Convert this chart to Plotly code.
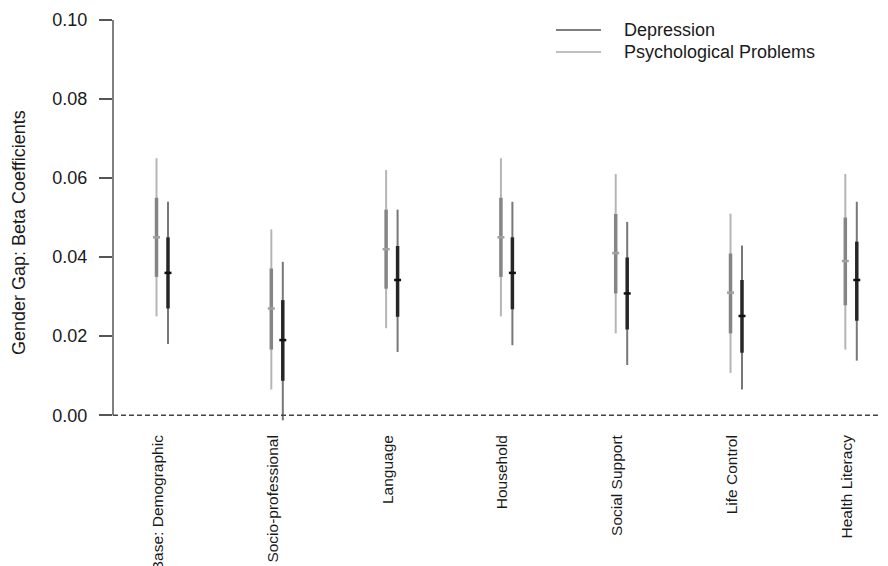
import plotly.graph_objects as go

# ---------------- data ----------------
categories = ["Base: Demographic", "Socio-professional", "Language", "Household",
              "Social Support", "Life Control", "Health Literacy"]

psych_est = [0.045, 0.027, 0.042, 0.045, 0.041, 0.031, 0.039]
psych_lo95 = [0.025, 0.0065, 0.022, 0.025, 0.0207, 0.0107, 0.0166]
psych_hi95 = [0.065, 0.047, 0.062, 0.065, 0.061, 0.051, 0.061]
psych_lo_in = [0.035, 0.0166, 0.032, 0.035, 0.0308, 0.0207, 0.0278]
psych_hi_in = [0.055, 0.0371, 0.052, 0.055, 0.0509, 0.0409, 0.050]

dep_est = [0.036, 0.019, 0.0342, 0.036, 0.0308, 0.0251, 0.0342]
dep_lo95 = [0.018, -0.0013, 0.016, 0.0177, 0.0127, 0.0065, 0.0138]
dep_hi95 = [0.054, 0.0388, 0.052, 0.054, 0.0489, 0.0429, 0.054]
dep_lo_in = [0.027, 0.0087, 0.0249, 0.0268, 0.0217, 0.0158, 0.0239]
dep_hi_in = [0.045, 0.0291, 0.0428, 0.045, 0.0399, 0.0342, 0.0439]

y_ticks = [0.00, 0.02, 0.04, 0.06, 0.08, 0.10]
y_tick_labels = ["0.00", "0.02", "0.04", "0.06", "0.08", "0.10"]

legend_labels = ["Depression", "Psychological Problems"]
y_title = "Gender Gap: Beta Coefficients"

# ---------------- layout constants ----------------
FONT = "Liberation Sans, Arial, Helvetica, sans-serif"
BODY = 8                      # default page margin around the plot div
W, H = 888 - BODY, 566 - BODY
ML, MR, MT, MB = 113 - BODY, 0, 12 - BODY, 135
PW, PH = W - ML - MR, H - MT - MB

PSYCH_OFF = -0.013
DEP_OFF = 0.087

PSY_THIN, PSY_THICK, PSY_PT = "#b5b5b5", "#858585", "#a0a0a0"
DEP_THIN, DEP_THICK, DEP_PT = "#777777", "#262626", "#111111"

pos = list(range(1, len(categories) + 1))


def segments(xs, lo, hi):
    X, Y = [], []
    for x, a, b in zip(xs, lo, hi):
        X += [x, x, None]
        Y += [a, b, None]
    return X, Y


fig = go.Figure()

series = [
    (PSYCH_OFF, psych_est, psych_lo95, psych_hi95, psych_lo_in, psych_hi_in,
     PSY_THIN, PSY_THICK, PSY_PT, legend_labels[1]),
    (DEP_OFF, dep_est, dep_lo95, dep_hi95, dep_lo_in, dep_hi_in,
     DEP_THIN, DEP_THICK, DEP_PT, legend_labels[0]),
]

for off, est, lo95, hi95, loi, hii, cthin, cthick, cpt, name in series:
    xs = [p + off for p in pos]
    X, Y = segments(xs, lo95, hi95)
    fig.add_trace(go.Scatter(x=X, y=Y, mode="lines", line=dict(color=cthin, width=2),
                             showlegend=False, hoverinfo="skip", name=name))
    X, Y = segments(xs, loi, hii)
    fig.add_trace(go.Scatter(x=X, y=Y, mode="lines", line=dict(color=cthick, width=3.5),
                             showlegend=False, hoverinfo="skip", name=name))
    fig.add_trace(go.Scatter(x=xs, y=est, mode="markers",
                             marker=dict(symbol="line-ew", size=5,
                                         line=dict(width=2.5, color=cpt)),
                             showlegend=False, name=name))

# dashed reference line at zero
fig.add_shape(type="line", xref="paper", yref="y", x0=0, x1=1, y0=0, y1=0,
              line=dict(color="#444444", width=1.5, dash="5px,3px"))
# y axis line only spanning the tick range (R style)
fig.add_shape(type="line", xref="paper", yref="y", x0=0, x1=0,
              y0=y_ticks[0], y1=y_ticks[-1],
              line=dict(color="#555555", width=1.5))


def px_x(px):   # page pixel -> paper
    return (px - BODY - ML) / PW


def px_y(py):
    return (MT + PH - (py - BODY)) / PH


# manual legend
for label, col, py in [(legend_labels[0], "#555555", 30), (legend_labels[1], "#aaaaaa", 52)]:
    fig.add_shape(type="line", xref="paper", yref="paper",
                  x0=px_x(556), x1=px_x(601), y0=px_y(py), y1=px_y(py),
                  line=dict(color=col, width=1.5))
    fig.add_annotation(xref="paper", yref="paper", x=px_x(622), y=px_y(py),
                       text=label, showarrow=False, xanchor="left", yanchor="middle",
                       font=dict(family=FONT, size=18, color="#1a1a1a"))

# y-axis title
fig.add_annotation(xref="paper", yref="paper", x=px_x(19), y=px_y(233),
                   text=y_title, showarrow=False, textangle=-90,
                   xanchor="center", yanchor="middle",
                   font=dict(family=FONT, size=18, color="#1a1a1a"))

fig.update_layout(
    width=W, height=H,
    margin=dict(l=ML, r=MR, t=MT, b=MB, pad=0, autoexpand=False),
    plot_bgcolor="white", paper_bgcolor="white",
    font=dict(family=FONT, size=16, color="#1a1a1a"),
    showlegend=False,
    xaxis=dict(range=[1 - 45 / 114.8, 1 + (888 - 158) / 114.8],
               tickmode="array", tickvals=pos, ticktext=categories,
               tickangle=-90, showgrid=False, zeroline=False, showline=False,
               automargin=False,
               ticks="", tickfont=dict(family=FONT, size=15.5, color="#1a1a1a")),
    yaxis=dict(range=[-0.004, 0.102], tickmode="array", tickvals=y_ticks,
               ticktext=y_tick_labels, showgrid=False, zeroline=False,
               showline=False, ticks="outside", ticklen=13, tickwidth=1.5,
               tickcolor="#555555", ticklabelstandoff=8, automargin=False,
               tickfont=dict(family=FONT, size=18, color="#1a1a1a")),
)

fig.write_html("out.html")
